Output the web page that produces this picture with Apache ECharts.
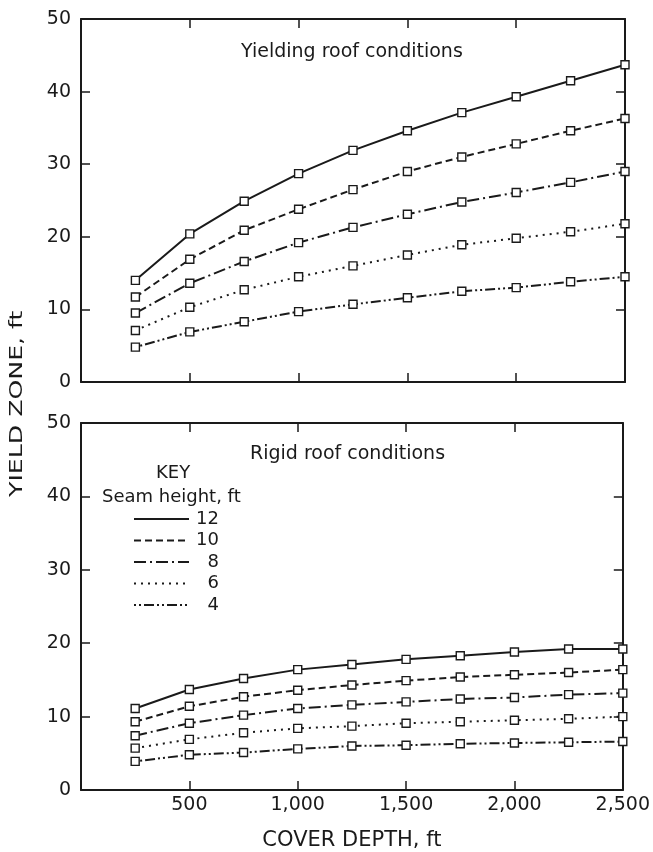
<!DOCTYPE html>
<html>
<head>
<meta charset="utf-8">
<script src="https://cdn.jsdelivr.net/npm/echarts@6/dist/echarts.min.js"></script>
<style>
  html, body { margin: 0; padding: 0; background: #fff; }
  #chart { width: 653px; height: 852px; }
</style>
</head>
<body>
<div id="chart"></div>
<script>
// cover depth, ft
var depths = [250, 500, 750, 1000, 1250, 1500, 1750, 2000, 2250, 2500];
var seamNames = ['12', '10', '8', '6', '4'];

// yielding roof conditions
var yield12 = [14.0, 20.4, 24.9, 28.7, 31.9, 34.6, 37.1, 39.3, 41.5, 43.7];
var yield10 = [11.7, 16.9, 20.9, 23.8, 26.5, 29.0, 31.0, 32.8, 34.6, 36.3];
var yield8  = [9.5, 13.6, 16.6, 19.2, 21.3, 23.1, 24.8, 26.1, 27.5, 29.0];
var yield6  = [7.1, 10.3, 12.7, 14.5, 16.0, 17.5, 18.9, 19.8, 20.7, 21.8];
var yield4  = [4.8, 6.9, 8.3, 9.7, 10.7, 11.6, 12.5, 13.0, 13.8, 14.5];

// rigid roof conditions
var rigid12 = [11.1, 13.7, 15.2, 16.4, 17.1, 17.8, 18.3, 18.8, 19.2, 19.2];
var rigid10 = [9.3, 11.4, 12.7, 13.6, 14.3, 14.9, 15.4, 15.7, 16.0, 16.4];
var rigid8  = [7.4, 9.1, 10.2, 11.1, 11.6, 12.0, 12.4, 12.6, 13.0, 13.2];
var rigid6  = [5.7, 6.9, 7.8, 8.4, 8.7, 9.1, 9.3, 9.5, 9.7, 10.0];
var rigid4  = [3.9, 4.8, 5.1, 5.6, 6.0, 6.1, 6.3, 6.4, 6.5, 6.6];

var xTicks = [0, 500, 1000, 1500, 2000, 2500];
var yTicks = [0, 10, 20, 30, 40, 50];

var ink = '#1a1a1a';
var font = 'DejaVu Sans';

// plot boxes
var gLeft = 81, gRight = 28;
var gTops = [19, 423];
var gHeights = [363, 368];

// line patterns for each seam height
var dashes = {
    '12': 'solid',
    '10': [7, 4],
    '8': [12, 4, 2, 4],
    '6': [2, 5],
    '4': [2, 3, 2, 3, 10, 3]
};

function pairs(vals) {
    return vals.map(function(v, i) { return [depths[i], v]; });
}

function makeSeries(name, vals, idx) {
    return {
        name: name,
        type: 'line',
        xAxisIndex: idx,
        yAxisIndex: idx,
        data: pairs(vals),
        symbol: 'rect',
        symbolSize: 8,
        itemStyle: { color: '#fff', borderColor: ink, borderWidth: 1.4 },
        lineStyle: { color: ink, width: 2, type: dashes[name] },
        emphasis: { disabled: true },
        z: 3
    };
}

function fmt(v) {
    if (v === 0) return '';
    return String(v).replace(/\B(?=(\d{3})+(?!\d))/g, ',');
}

// inward ticks: negative length on the top / right frame axes
function tick(on) {
    return { show: !!on, inside: false, length: -9, lineStyle: { color: ink, width: 1.5 } };
}

function xAx(grid, pos, opts) {
    return {
        type: 'value',
        gridIndex: grid,
        position: pos,
        min: xTicks[0],
        max: xTicks[xTicks.length - 1],
        interval: 500,
        axisLine: { show: true, onZero: false, lineStyle: { color: ink, width: 2 } },
        axisTick: tick(opts.tick),
        axisLabel: { show: !!opts.label, formatter: fmt, color: ink, fontSize: 19, fontFamily: font, margin: 6 },
        splitLine: { show: false },
        name: opts.name || '',
        nameLocation: 'middle',
        nameGap: 40,
        nameTextStyle: { color: ink, fontSize: 21, fontFamily: font }
    };
}

function yAx(grid, pos, opts) {
    return {
        type: 'value',
        gridIndex: grid,
        position: pos,
        min: yTicks[0],
        max: yTicks[yTicks.length - 1],
        interval: 10,
        axisLine: { show: true, onZero: false, lineStyle: { color: ink, width: 2 } },
        axisTick: tick(opts.tick),
        axisLabel: { show: !!opts.label, color: ink, fontSize: 19, fontFamily: font, margin: 10 },
        splitLine: { show: false }
    };
}

var chart = echarts.init(document.getElementById('chart'));

var plain = { color: ink, fontWeight: 'normal', fontFamily: font };

var option = {
    backgroundColor: '#fff',
    animation: false,
    grid: [
        { left: gLeft, right: gRight, top: gTops[0], height: gHeights[0] },
        { left: gLeft, right: gRight, top: gTops[1], height: gHeights[1] }
    ],
    xAxis: [
        xAx(0, 'bottom', { tick: true }),
        xAx(1, 'bottom', { tick: true, label: true, name: 'COVER DEPTH, ft' }),
        xAx(0, 'top', { tick: true }),
        xAx(1, 'top', { tick: true })
    ],
    yAxis: [
        yAx(0, 'left', { tick: true, label: true }),
        yAx(1, 'left', { tick: true, label: true }),
        yAx(0, 'right', { tick: true }),
        yAx(1, 'right', { tick: true })
    ],
    title: [
        { text: 'Yielding roof conditions', left: 236, top: 38,
          textStyle: Object.assign({ fontSize: 19 }, plain) },
        { text: 'Rigid roof conditions', left: 245, top: 440,
          textStyle: Object.assign({ fontSize: 19 }, plain) },
        { text: 'KEY', left: 151, top: 459,
          textStyle: Object.assign({ fontSize: 18 }, plain) },
        { text: 'Seam height, ft', left: 97, top: 483,
          textStyle: Object.assign({ fontSize: 18 }, plain) }
    ],
    legend: {
        data: seamNames,
        orient: 'vertical',
        left: 128,
        top: 504,
        padding: 5,
        itemWidth: 55,
        itemHeight: 14,
        itemGap: 1.5,
        selectedMode: false,
        itemStyle: { opacity: 0 },
        formatter: '{r|{name}}',
        textStyle: {
            color: ink, fontSize: 18, fontFamily: font, lineHeight: 20,
            rich: { r: { width: 25, align: 'right', fontSize: 18, fontFamily: font, color: ink } }
        }
    },
    graphic: [
        { type: 'text', x: 8, y: 497, rotation: Math.PI / 2, scaleX: 1.4,
          style: { text: 'YIELD ZONE, ft', fill: ink, fontSize: 18, fontFamily: font,
                   align: 'left', verticalAlign: 'top' } }
    ],
    series: [
        makeSeries('12', yield12, 0),
        makeSeries('10', yield10, 0),
        makeSeries('8', yield8, 0),
        makeSeries('6', yield6, 0),
        makeSeries('4', yield4, 0),
        makeSeries('12', rigid12, 1),
        makeSeries('10', rigid10, 1),
        makeSeries('8', rigid8, 1),
        makeSeries('6', rigid6, 1),
        makeSeries('4', rigid4, 1)
    ]
};

chart.setOption(option);
</script>
</body>
</html>
